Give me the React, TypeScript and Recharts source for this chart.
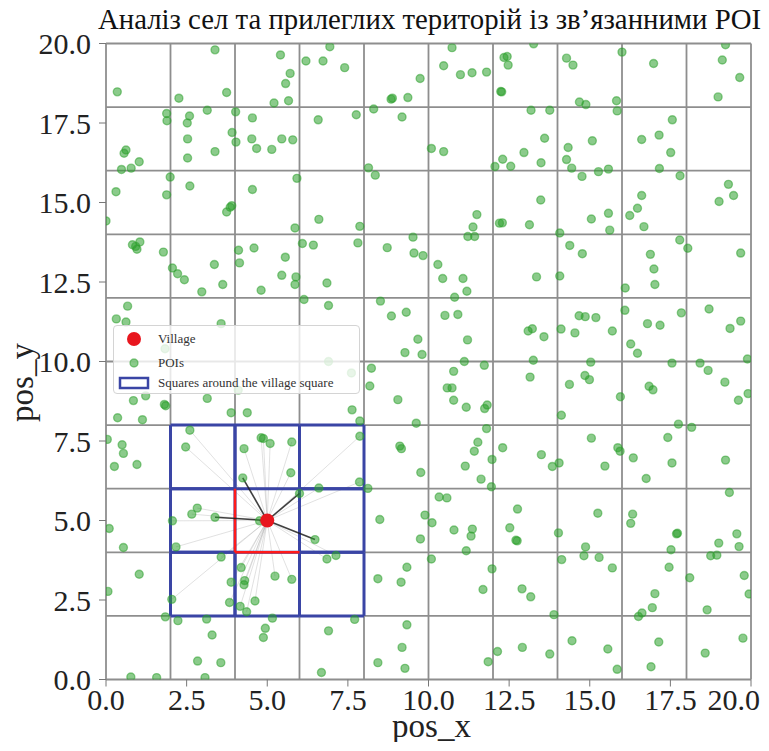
import React from 'react'
import {
  Label,
  Legend,
  ReferenceLine,
  Scatter,
  ScatterChart,
  XAxis,
  YAxis,
} from 'recharts'

type Pt = [number, number]

// ── POI positions, grouped by map area ───────────────────────────────────────
const poisNorthWest: Pt[] = [
  [3.38, 19.8], [5.41, 19.64], [6.2, 19.45], [5.71, 19.06], [5.57, 18.74], [0.35, 18.48],
  [3.74, 18.46], [2.26, 18.28], [5.21, 18.13], [5.66, 18.2], [1.88, 17.8], [1.89, 17.57],
  [2.59, 17.72], [2.52, 17.5], [3.14, 17.9], [4.02, 17.85], [4.54, 17.66], [6.58, 17.6],
  [3.91, 17.2], [4.03, 16.9], [2.53, 17.0], [4.52, 17.0], [5.45, 17.0], [5.79, 16.97],
  [4.67, 16.7], [5.14, 16.67], [3.38, 16.6], [0.62, 16.65], [0.56, 16.55], [1.03, 16.28],
  [0.48, 16.04], [0.78, 16.08], [2.53, 16.4], [1.99, 15.8], [2.6, 15.52], [4.54, 15.41],
  [5.92, 15.76], [0.31, 15.34], [1.88, 15.24], [3.9, 14.9], [3.85, 14.85], [3.74, 14.7],
  [0.0, 14.42], [5.86, 14.2], [6.6, 14.47], [1.05, 13.76], [0.92, 13.62], [0.96, 13.53],
  [0.82, 13.67], [1.78, 13.44], [4.11, 13.5], [4.59, 13.57], [5.56, 13.28], [6.09, 13.71],
  [6.43, 13.66],
]

const poisNorth: Pt[] = [
  [6.94, 19.9], [6.73, 19.45], [7.4, 19.24], [8.84, 18.25], [8.88, 18.28], [9.36, 18.3],
  [9.74, 18.9], [10.73, 19.87], [10.47, 19.3], [10.99, 19.02], [11.35, 19.08], [11.8, 19.1],
  [12.34, 19.56], [12.44, 19.59], [12.47, 19.32], [12.24, 18.49], [12.27, 18.48], [13.18, 17.9],
  [7.76, 17.76], [8.3, 17.94], [9.18, 17.69], [10.09, 16.7], [10.47, 16.6], [12.3, 16.36],
  [12.06, 16.13], [12.55, 16.14], [12.96, 16.57], [8.14, 16.09], [8.35, 15.86], [7.87, 14.25],
  [11.5, 14.62], [11.38, 14.23], [11.22, 13.93], [11.43, 13.93], [12.2, 14.35], [12.29, 14.36],
  [13.13, 14.3], [7.81, 13.73], [8.72, 13.58], [9.52, 13.91], [9.55, 13.41], [9.83, 13.33],
]

const poisNorthEast: Pt[] = [
  [13.26, 19.99], [14.28, 19.54], [14.48, 19.32], [16.0, 19.73], [16.98, 19.37], [19.21, 19.96],
  [19.11, 19.48], [19.65, 18.93], [18.98, 18.32], [14.68, 18.16], [14.88, 18.08], [15.83, 18.2],
  [15.85, 17.88], [13.76, 17.9], [13.6, 17.02], [13.49, 16.25], [14.33, 16.73], [14.28, 16.35],
  [14.44, 16.08], [15.08, 16.94], [14.76, 15.82], [15.27, 15.97], [15.58, 16.05], [16.61, 16.98],
  [17.15, 17.12], [17.56, 17.6], [17.51, 16.57], [17.16, 16.07], [17.8, 15.84], [19.3, 15.57],
  [19.46, 15.22], [19.01, 15.03], [13.48, 15.08], [16.61, 15.22], [16.48, 14.82], [16.24, 14.59],
  [16.68, 14.24], [15.05, 14.48], [15.58, 14.66], [15.62, 14.13], [14.07, 14.04], [14.38, 13.65],
  [14.77, 13.39], [16.88, 13.37], [17.79, 13.82], [18.04, 13.56], [19.68, 13.41],
]

const poisWest: Pt[] = [
  [3.36, 13.05], [4.14, 13.1], [2.06, 12.94], [2.22, 12.76], [2.43, 12.57], [3.62, 12.42],
  [2.97, 12.19], [4.81, 12.24], [5.45, 12.71], [5.89, 12.66], [5.86, 12.42], [6.14, 11.95],
  [0.67, 11.74], [0.32, 11.34], [0.62, 11.24], [3.57, 11.19], [1.83, 10.4], [4.1, 9.1],
  [0.85, 8.77], [1.23, 8.92], [1.81, 8.65], [1.85, 8.61], [0.36, 8.23], [1.13, 8.17],
  [3.14, 8.84], [3.88, 8.39], [4.38, 8.39], [2.6, 7.84], [2.47, 7.31], [0.5, 7.38],
  [0.54, 7.11], [0.26, 6.7], [0.96, 6.76], [0.04, 7.55], [4.28, 7.26], [4.81, 7.6],
  [4.88, 7.58], [5.09, 7.42], [5.76, 7.47],
]

const poisCentre: Pt[] = [
  [10.29, 13.05], [10.44, 12.61], [11.07, 12.61], [11.19, 12.21], [10.81, 12.02], [6.85, 12.47],
  [6.9, 11.76], [8.51, 11.9], [8.85, 11.43], [9.31, 11.55], [10.51, 11.45], [10.91, 11.48],
  [9.67, 10.7], [9.27, 10.28], [9.8, 10.22], [11.21, 10.68], [11.11, 10.0], [11.73, 9.88],
  [13.09, 10.96], [13.22, 11.03], [13.25, 10.04], [13.15, 9.51], [8.23, 9.79], [8.18, 9.23],
  [6.9, 10.0], [7.61, 9.64], [10.78, 9.69], [10.58, 9.17], [10.73, 9.17], [10.78, 8.78],
  [11.17, 8.56], [11.74, 8.52], [11.82, 8.63], [9.05, 8.8], [7.63, 8.48], [7.87, 8.13],
  [9.62, 8.06], [7.87, 7.65], [9.11, 7.34], [9.16, 7.26], [11.8, 7.89], [11.53, 7.46],
  [11.42, 7.18], [12.3, 7.29], [11.97, 6.92], [11.14, 6.71], [9.76, 6.51],
]

const poisEast: Pt[] = [
  [13.35, 12.66], [14.07, 12.69], [16.99, 12.91], [17.02, 12.42], [16.1, 12.31], [14.67, 11.44],
  [14.86, 11.41], [15.19, 11.38], [13.58, 10.78], [14.11, 11.02], [14.54, 10.9], [15.7, 10.96],
  [16.09, 11.61], [16.79, 11.19], [17.18, 11.14], [17.84, 11.53], [18.7, 11.65], [19.35, 11.04],
  [19.68, 11.27], [16.27, 10.55], [16.48, 10.26], [15.03, 9.98], [17.55, 9.95], [18.42, 9.95],
  [18.67, 9.72], [19.19, 9.35], [19.61, 8.78], [19.91, 8.99], [19.89, 10.08], [14.37, 9.28],
  [14.85, 9.56], [14.99, 9.43], [16.84, 9.22], [16.96, 9.11], [15.95, 8.89], [14.12, 8.31],
  [17.75, 8.03], [18.16, 7.93], [15.05, 7.59], [17.42, 7.61], [15.87, 7.29], [15.94, 7.18],
  [16.35, 6.97], [17.55, 6.81], [19.21, 6.9], [13.5, 7.07], [13.84, 6.7], [14.05, 6.81],
  [15.47, 6.71],
]

const poisSouthWest: Pt[] = [
  [5.73, 6.5], [4.24, 6.34], [6.0, 5.85], [6.6, 6.02], [2.83, 5.39], [2.66, 5.2],
  [3.38, 5.1], [2.06, 4.99], [4.76, 4.99], [6.48, 4.4], [0.1, 4.75], [0.54, 4.15],
  [2.17, 4.17], [3.57, 3.85], [1.03, 3.31], [4.19, 3.52], [3.88, 3.06], [4.3, 3.11],
  [4.28, 2.98], [5.24, 3.25], [5.76, 3.15], [0.06, 2.77], [2.04, 2.52], [3.83, 2.42],
  [4.16, 2.3], [4.36, 2.13], [4.62, 2.47], [1.84, 1.97], [2.23, 1.85], [3.12, 1.9],
  [5.16, 1.93], [4.94, 1.61], [4.88, 1.32], [3.29, 1.4], [2.84, 0.58], [3.56, 0.53],
  [0.77, 0.08], [1.57, 0.06], [3.07, 0.06], [6.68, 0.22],
]

const poisSouth: Pt[] = [
  [11.63, 6.3], [11.95, 6.06], [7.86, 6.21], [8.12, 6.01], [10.33, 5.74], [10.57, 5.71],
  [12.76, 5.36], [8.49, 5.03], [9.89, 5.17], [10.11, 4.93], [9.75, 4.42], [10.79, 4.7],
  [11.36, 4.73], [11.32, 4.51], [12.52, 4.77], [12.71, 4.38], [12.75, 4.36], [11.17, 4.05],
  [6.85, 3.79], [7.13, 3.9], [10.09, 3.79], [9.33, 3.53], [8.43, 3.17], [9.15, 3.06],
  [11.97, 3.48], [11.69, 2.83], [12.9, 2.85], [13.17, 2.6], [7.71, 1.89], [6.9, 1.53],
  [9.33, 1.72], [9.18, 1.01], [8.43, 0.53], [9.27, 0.35], [12.14, 0.88], [11.85, 0.56],
  [12.91, 1.01],
]

const poisSouthEast: Pt[] = [
  [16.75, 6.32], [19.33, 5.88], [15.25, 5.23], [16.33, 5.2], [16.27, 4.91], [14.03, 4.61],
  [14.87, 4.17], [14.82, 3.89], [15.29, 3.84], [15.7, 3.51], [14.13, 3.77], [17.69, 4.58],
  [17.72, 4.6], [17.52, 4.08], [17.46, 3.53], [19.0, 4.29], [19.56, 4.58], [19.63, 4.18],
  [18.75, 3.89], [18.94, 3.91], [18.1, 3.2], [19.79, 3.27], [19.94, 2.69], [17.02, 2.7],
  [16.94, 2.26], [16.62, 2.09], [16.51, 1.98], [18.64, 2.19], [13.89, 2.04], [14.45, 1.22],
  [13.76, 0.8], [15.56, 0.96], [15.85, 0.32], [17.14, 1.18], [16.9, 0.4], [18.58, 0.83],
  [19.75, 1.3],
]

// ── Village + map grid ───────────────────────────────────────────────────────
const villageX = 5.0
const villageY = 5.0
const cellSize = 2
const linkRadius = 1.65
const axisTicks = [0, 2.5, 5, 7.5, 10, 12.5, 15, 17.5, 20]
const gridValues = [0, 2, 4, 6, 8, 10, 12, 14, 16, 18, 20]

const CHART_W = 769
const CHART_H = 750
const FONT = '"Liberation Serif", "Times New Roman", serif'
const BLUE = '#3a45a5'
const GRID = '#8e8e8e'

const pois = [
  ...poisNorthWest, ...poisNorth, ...poisNorthEast,
  ...poisWest, ...poisCentre, ...poisEast,
  ...poisSouthWest, ...poisSouth, ...poisSouthEast,
].map(([x, y]) => ({ x, y }))

const village = [{ x: villageX, y: villageY }]

// village cell and the 8 cells around it
const cellX0 = Math.floor(villageX / cellSize) * cellSize
const cellY0 = Math.floor(villageY / cellSize) * cellSize

type Seg = [{ x: number; y: number }, { x: number; y: number }]

const squareEdges: Seg[] = []
for (let dx = -1; dx <= 1; dx++) {
  for (let dy = -1; dy <= 1; dy++) {
    if (dx === 0 && dy === 0) continue
    const x1 = cellX0 + dx * cellSize
    const y1 = cellY0 + dy * cellSize
    const x2 = x1 + cellSize
    const y2 = y1 + cellSize
    squareEdges.push(
      [{ x: x1, y: y1 }, { x: x2, y: y1 }],
      [{ x: x2, y: y1 }, { x: x2, y: y2 }],
      [{ x: x2, y: y2 }, { x: x1, y: y2 }],
      [{ x: x1, y: y2 }, { x: x1, y: y1 }],
    )
  }
}

// left + bottom edges of the village cell are drawn red
const villageEdges: Seg[] = [
  [{ x: cellX0, y: cellY0 }, { x: cellX0, y: cellY0 + cellSize }],
  [{ x: cellX0, y: cellY0 }, { x: cellX0 + cellSize, y: cellY0 }],
]

const areaMinX = cellX0 - cellSize
const areaMaxX = cellX0 + 2 * cellSize
const areaMinY = cellY0 - cellSize
const areaMaxY = cellY0 + 2 * cellSize

const areaPois = pois.filter(
  p => p.x >= areaMinX && p.x <= areaMaxX && p.y >= areaMinY && p.y <= areaMaxY,
)
const dist = (p: { x: number; y: number }) => Math.hypot(p.x - villageX, p.y - villageY)
const nearPois = areaPois.filter(p => dist(p) <= linkRadius)
const farPois  = areaPois.filter(p => dist(p) > linkRadius)

const fmtTick = (v: number) => v.toFixed(1)

// x tick label; the last one is right-aligned so it stays inside the svg
function renderXTick(props: any) {
  const { x, y, payload } = props
  const isLast = Number(payload.value) >= 20
  return (
    <text
      key={`xt${payload.value}`}
      x={isLast ? CHART_W - 9 : x}
      y={y}
      dy="0.71em"
      textAnchor={isLast ? 'end' : 'middle'}
      fontFamily={FONT}
      fontSize={30}
      fill="#222"
    >
      {fmtTick(Number(payload.value))}
    </text>
  )
}

function PoiDot(props: any) {
  return (
    <circle
      cx={props.cx}
      cy={props.cy}
      r={4}
      fill="#2ca02c"
      fillOpacity={0.55}
      stroke="#2ca02c"
      strokeOpacity={0.5}
      strokeWidth={1.4}
    />
  )
}

function VillageDot(props: any) {
  return <circle cx={props.cx} cy={props.cy} r={7} fill="#e8161e" />
}

function LegendBox() {
  return (
    <div
      style={{
        position: 'relative',
        width: 247,
        height: 69,
        boxSizing: 'border-box',
        border: '1px solid #d4d4d4',
        borderRadius: 4,
        background: 'rgba(255,255,255,0.8)',
        fontFamily: FONT,
        fontSize: 13,
        color: '#333',
      }}
    >
      <svg width={40} height={69} style={{ position: 'absolute', left: 0, top: 0 }}>
        <circle cx={20} cy={13} r={7} fill="#e8161e" />
        <circle cx={20} cy={37} r={4} fill="#2ca02c" fillOpacity={0.55} stroke="#2ca02c" strokeOpacity={0.5} strokeWidth={1.4} />
        <rect x={6} y={52} width={28} height={10} fill="none" stroke={BLUE} strokeWidth={2.5} />
      </svg>
      <span style={{ position: 'absolute', left: 44, top: 5 }}>Village</span>
      <span style={{ position: 'absolute', left: 44, top: 29 }}>POIs</span>
      <span style={{ position: 'absolute', left: 44, top: 49 }}>Squares around the village square</span>
    </div>
  )
}

export default function App() {
  return (
    // pulled over the body margin so the figure uses the whole window
    <div style={{ position: 'relative', width: CHART_W, height: CHART_H, margin: '-8px 0 -8px -8px' }}>
      <ScatterChart
        width={CHART_W}
        height={CHART_H}
        margin={{ top: 43.5, right: 18, bottom: 6.5, left: 8 }}
      >
        <XAxis
          type="number"
          dataKey="x"
          domain={[0, 20]}
          ticks={axisTicks}
          interval={0}
          allowDataOverflow
          height={64}
          axisLine={false}
          tickSize={7}
          tickMargin={2}
          tickLine={{ stroke: '#777' }}
          tick={renderXTick}
        >
          <Label
            content={({ viewBox }: any) => (
              <text
                x={viewBox.x + viewBox.width / 2 + 3}
                y={viewBox.y + viewBox.height - 7}
                textAnchor="middle"
                fontFamily={FONT}
                fontSize={33}
                fill="#222"
              >
                pos_x
              </text>
            )}
          />
        </XAxis>
        <YAxis
          type="number"
          dataKey="y"
          domain={[0, 20]}
          ticks={axisTicks}
          interval={0}
          tickFormatter={fmtTick}
          allowDataOverflow
          width={98}
          axisLine={false}
          tickSize={7}
          tickMargin={8}
          tickLine={{ stroke: '#777' }}
          tick={{ fontFamily: FONT, fontSize: 30, fill: '#222' }}
        >
          <Label
            content={({ viewBox }: any) => {
              const cx = 33
              const cy = viewBox.y + viewBox.height / 2 + 21
              return (
                <text
                  x={cx}
                  y={cy}
                  transform={`rotate(-90 ${cx} ${cy})`}
                  textAnchor="middle"
                  fontFamily={FONT}
                  fontSize={33}
                  fill="#222"
                >
                  pos_y
                </text>
              )
            }}
          />
        </YAxis>

        {/* map grid (2 x 2 cells) and frame */}
        {gridValues.map(v => (
          <ReferenceLine key={`gx${v}`} x={v} stroke={GRID} strokeWidth={1.8} />
        ))}
        {gridValues.map(v => (
          <ReferenceLine key={`gy${v}`} y={v} stroke={GRID} strokeWidth={1.8} />
        ))}

        {/* faint links to every POI in the surrounding squares */}
        {farPois.map((p, i) => (
          <ReferenceLine
            key={`far${i}`}
            segment={[{ x: villageX, y: villageY }, p]}
            stroke="#9a9a9a"
            strokeOpacity={0.3}
            strokeWidth={1}
          />
        ))}

        {squareEdges.map((s, i) => (
          <ReferenceLine key={`sq${i}`} segment={s} stroke={BLUE} strokeWidth={3} />
        ))}
        {villageEdges.map((s, i) => (
          <ReferenceLine key={`ve${i}`} segment={s} stroke="#ff1a1a" strokeWidth={2.5} />
        ))}

        {/* strong links to POIs close to the village */}
        {nearPois.map((p, i) => (
          <ReferenceLine
            key={`near${i}`}
            segment={[{ x: villageX, y: villageY }, p]}
            stroke="#1e1e1e"
            strokeOpacity={0.85}
            strokeWidth={1.6}
          />
        ))}

        <Scatter name="POIs" data={pois} shape={PoiDot} isAnimationActive={false} />
        <Scatter name="Village" data={village} shape={VillageDot} isAnimationActive={false} />

        <Legend
          layout="vertical"
          align="center"
          verticalAlign="middle"
          wrapperStyle={{ left: 113, top: 325, width: 247 }}
          content={() => <LegendBox />}
        />
      </ScatterChart>

      <svg
        width={CHART_W}
        height={42}
        style={{ position: 'absolute', left: 0, top: 0, pointerEvents: 'none' }}
      >
        <text
          x={98}
          y={29}
          fontFamily={FONT}
          fontSize={30}
          fill="#111"
          textLength={663}
          lengthAdjust="spacingAndGlyphs"
        >
          Аналіз сел та прилеглих територій із зв’язанними POI
        </text>
      </svg>
    </div>
  )
}
